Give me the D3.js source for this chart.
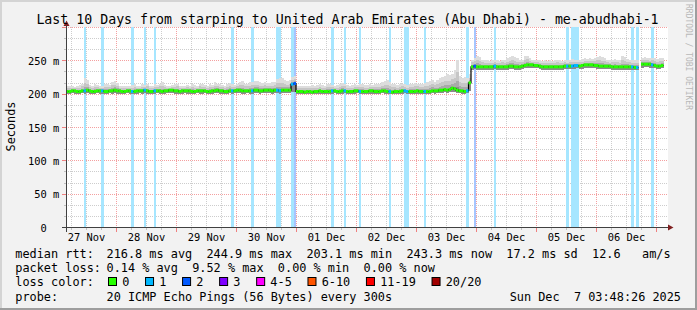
<!DOCTYPE html>
<html lang="en">
<head>
<meta charset="UTF-8">
<title>Smokeping - me-abudhabi-1</title>
<script src="https://d3js.org/d3.v7.min.js"></script>
<style>
    body { margin: 0; background: #f2f2f2; }
    svg { display: block; font-family: "DejaVu Sans Mono", monospace; }
    .pre { white-space: pre; }
</style>
</head>
<body>
<div id="chart"></div>
<script>
// ---- data (hourly bins, 240 = 10 days, starting Nov 27 03:48:26) ----
const startTime = Date.UTC(2025, 10, 27, 3, 48, 26);
const binCount = 240;

// median rtt per hour (ms), null = no data
const median = [
    204,204,205,205,204,204,205,205,206,205,204,204,205,205,205,204,204,205,205,206,205,205,204,204,
    205,205,204,204,205,205,205,206,205,204,204,205,205,205,204,205,205,206,206,205,205,204,205,205,
    205,205,204,204,205,205,205,205,204,204,205,205,206,205,205,204,204,205,205,205,206,206,205,205,
    205,205,205,206,206,205,205,206,206,206,205,206,206,205,206,206,206,206,215,216,204,204,204,203,
    204,204,203,204,204,205,204,204,204,204,205,205,204,204,205,205,204,204,204,205,205,204,204,204,
    204,205,205,204,204,204,205,205,204,204,203,204,204,204,205,205,204,204,204,204,205,204,204,204,
    204,204,205,205,205,206,206,207,206,207,209,208,206,205,205,204,205,217,241,242,241,241,241,241,
    241,241,241,242,241,241,241,241,241,242,242,241,241,241,242,243,244,244,244,243,243,242,241,241,
    241,241,241,241,241,241,241,242,242,242,242,243,243,242,243,244,244,244,244,243,243,242,242,242,
    242,242,241,241,241,241,241,241,241,241,241,240,240,null,245,245,245,245,244,243,242,242,243,null
];

// highest ping of the smoke per hour (ms)
const smokeMax = [
    212,213,212,211,212,214,216,225,222,214,213,215,214,213,212,216,215,214,219,220,217,213,212,213,
    213,212,214,215,213,212,215,214,216,213,212,215,214,216,218,214,213,212,214,215,216,213,212,213,
    214,213,215,214,213,216,215,214,213,215,214,218,216,215,214,213,216,217,215,214,216,218,220,216,
    216,218,219,220,220,218,217,218,217,217,218,219,223,225,224,221,220,221,226,228,212,212,213,213,
    212,213,214,213,214,215,214,213,216,215,214,213,214,215,217,216,214,213,214,215,214,216,215,214,
    214,215,214,216,215,216,218,220,221,219,216,215,214,215,216,215,214,215,216,217,216,215,216,217,
    218,220,222,219,221,224,226,228,230,229,231,236,251,228,224,226,224,230,252,255,258,256,252,251,
    251,250,251,252,251,250,252,251,254,256,257,256,254,252,252,257,258,254,252,251,252,251,250,251,
    250,251,250,251,252,251,250,252,251,252,253,252,251,252,253,254,253,254,253,255,256,257,256,254,
    252,251,252,253,252,251,257,256,253,252,251,252,251,null,255,256,255,254,255,254,253,254,255,null
];

// lowest ping of the smoke per hour (ms)
const smokeMin = [
    201,201,202,201,201,201,202,201,202,201,201,201,202,201,201,201,201,202,201,202,201,201,201,201,
    202,201,201,201,201,202,201,202,201,201,201,201,202,201,201,201,202,202,202,201,201,201,201,202,
    201,201,201,201,202,201,201,202,201,201,201,202,202,201,201,201,201,202,201,202,202,202,201,201,
    202,201,201,202,202,201,202,202,202,202,201,202,202,201,202,202,202,202,203,203,201,201,201,200,
    201,201,200,201,201,201,201,201,201,201,201,202,201,201,201,202,201,201,201,201,202,201,201,201,
    201,201,201,201,201,201,202,201,201,201,200,201,201,201,201,202,201,201,201,201,201,201,201,201,
    201,201,202,201,202,202,202,203,202,203,204,203,202,202,201,201,202,205,237,238,237,237,237,237,
    237,237,237,238,237,237,237,237,237,238,238,237,237,237,238,239,239,240,239,239,239,238,237,237,
    237,237,237,237,237,237,237,238,238,238,238,238,239,238,238,239,240,239,240,239,238,238,238,238,
    238,238,237,237,237,237,237,237,237,237,237,236,236,null,240,241,241,240,240,239,238,238,239,null
];

// hours with packet loss: [bin, lost pings of 20]
const lossEvents = [
    [7,1],[14,1],[26,1],[31,1],[35,1],[66,1],[74,1],[84,1],[85,1],[90,1],[91,2],
    [106,1],[111,1],[117,1],[129,1],[135,1],[136,1],[143,1],[160,1],[163,2],[171,1],
    [200,1],[202,1],[203,1],[204,1],[226,1],[228,1],[234,1]
];

const lossLabels = ["0", "1", "2", "3", "4-5", "6-10", "11-19", "20/20"];
const lossColors = ["#26ff00", "#00b8ff", "#0059ff", "#7e00ff", "#ff00ff", "#ff5500", "#ff0000", "#a10000"];

const yTicks = [0, 50, 100, 150, 200, 250];

const titleText = "Last 10 Days from starping to United Arab Emirates (Abu Dhabi) - me-abudhabi-1";
const rttStats = "216.8 ms avg  244.9 ms max  203.1 ms min  243.3 ms now  17.2 ms sd  12.6   am/s";
const lossStats = "0.14 % avg  9.52 % max  0.00 % min  0.00 % now";
const probeText = "20 ICMP Echo Pings (56 Bytes) every 300s";
const stampText = "Sun Dec  7 03:48:26 2025";

// ---- layout ----
const W = 697, H = 310;
const plotLeft = 66, plotRight = 666, plotTop = 27.5, plotBottom = 227.5;

const svg = d3.select("#chart").append("svg")
    .attr("width", W)
    .attr("height", H);

// background + frame shades
svg.append("rect").attr("width", W).attr("height", H).attr("fill", "#f2f2f2");
svg.append("path").attr("d", `M0,0H${W}V2H2V${H}H0Z`).attr("fill", "#d4d4d4");
svg.append("path").attr("d", `M${W},${H}H0V${H - 2}H${W - 2}V0H${W}Z`).attr("fill", "#9e9e9e");

// canvas
svg.append("rect")
    .attr("x", plotLeft).attr("y", 27)
    .attr("width", 602).attr("height", 201)
    .attr("fill", "#ffffff");

const endTime = startTime + binCount * 3600 * 1000;
const x = d3.scaleUtc()
    .domain([new Date(startTime), new Date(endTime)])
    .range([plotLeft, plotRight]);
const y = d3.scaleLinear()
    .domain([0, 300])
    .range([plotBottom, plotTop]);

const snap = v => Math.floor(v) + 0.5;
const binStart = i => new Date(startTime + i * 3600 * 1000);
const binEnd = i => new Date(startTime + (i + 1) * 3600 * 1000);

// ---- grid ----
const grid = svg.append("g").attr("fill", "none").attr("stroke-dasharray", "1,1")
    .attr("shape-rendering", "crispEdges");

// vertical: minor every 6h, major at midnight
const sixHours = d3.utcHour.every(6).range(new Date(startTime), new Date(endTime));
sixHours.forEach(t => {
    const major = t.getUTCHours() === 0;
    const px = snap(x(t));
    grid.append("line")
        .attr("x1", px).attr("x2", px)
        .attr("y1", 27).attr("y2", 228)
        .attr("stroke", major ? "#f4a0a0" : "#cdcdcd");
});

// horizontal: major every 50 m, two minor lines between
d3.range(0, 301, 50 / 3).forEach((v, k) => {
    if (k === 0) return;
    const major = k % 3 === 0;
    const py = snap(y(v));
    grid.append("line")
        .attr("x1", plotLeft).attr("x2", 668)
        .attr("y1", py).attr("y2", py)
        .attr("stroke", major ? "#f4a0a0" : "#cdcdcd");
});

// ---- loss background bars ----
const lossClass = n => n <= 0 ? 0 : n === 1 ? 1 : n === 2 ? 2 : n === 3 ? 3 : n <= 5 ? 4 : n <= 10 ? 5 : n <= 19 ? 6 : 7;
const lossByBin = new Map(lossEvents.map(d => [d[0], d[1]]));
const lighten = c => d3.interpolateRgb("#ffffff", c)(0.35);

svg.append("g").attr("shape-rendering", "crispEdges")
    .selectAll("rect")
    .data(lossEvents)
    .enter()
    .append("rect")
    .attr("x", d => x(binStart(d[0])))
    .attr("width", d => x(binEnd(d[0])) - x(binStart(d[0])))
    .attr("y", 27)
    .attr("height", 201)
    .attr("fill", d => lighten(lossColors[lossClass(d[1])]));

// ---- smoke ----
const bins = d3.range(binCount).map(i => ({
    i: i,
    med: median[i],
    hi: smokeMax[i],
    lo: smokeMin[i]
})).filter(d => d.med != null);

const smokeLayers = [
    { f: 1.0, color: "#dddddd" },
    { f: 0.6, color: "#c6c6c6" },
    { f: 0.3, color: "#a9a9a9" },
    { f: 0.1, color: "#8a8a8a" }
];
const smoke = svg.append("g").attr("shape-rendering", "crispEdges");
smokeLayers.forEach(layer => {
    smoke.selectAll(null)
        .data(bins)
        .enter()
        .append("rect")
        .attr("x", d => x(binStart(d.i)))
        .attr("width", d => x(binEnd(d.i)) - x(binStart(d.i)))
        .attr("y", d => y(d.med + (d.hi - d.med) * layer.f))
        .attr("height", d => y(d.lo) - y(d.med + (d.hi - d.med) * layer.f))
        .attr("fill", layer.color);
});

// ---- median ----
const medPts = [];
d3.range(binCount).forEach(i => {
    medPts.push({ t: binStart(i), v: median[i] });
    medPts.push({ t: binEnd(i), v: median[i] });
});
const medLine = d3.line()
    .defined(d => d.v != null)
    .x(d => x(d.t))
    .y(d => y(d.v));
svg.append("path")
    .attr("d", medLine(medPts))
    .attr("fill", "none")
    .attr("stroke", "#000")
    .attr("stroke-width", 1.2);

svg.append("g")
    .selectAll("rect")
    .data(bins)
    .enter()
    .append("rect")
    .attr("x", d => x(binStart(d.i)))
    .attr("width", d => x(binEnd(d.i)) - x(binStart(d.i)))
    .attr("y", d => y(d.med) - 1.5)
    .attr("height", 3)
    .attr("fill", d => lossColors[lossClass(lossByBin.get(d.i) || 0)]);

// ---- axes ----
const axisColor = "#404040";
const arrowColor = "#7f1f1f";

// ticks on axes
const ticks = svg.append("g").attr("shape-rendering", "crispEdges");
sixHours.forEach(t => {
    const major = t.getUTCHours() === 0;
    const px = snap(x(t));
    ticks.append("line")
        .attr("x1", px).attr("x2", px)
        .attr("y1", 228).attr("y2", major ? 232 : 230)
        .attr("stroke", major ? "#f08080" : "#c0c0c0");
});
d3.range(0, 301, 50 / 3).forEach((v, k) => {
    const major = k % 3 === 0;
    const py = snap(y(v));
    ticks.append("line")
        .attr("x1", major ? 62 : 64).attr("x2", 66)
        .attr("y1", py).attr("y2", py)
        .attr("stroke", major ? "#f08080" : "#c0c0c0");
});

svg.append("line")
    .attr("x1", 62).attr("x2", 669)
    .attr("y1", 227.5).attr("y2", 227.5)
    .attr("stroke", axisColor);
svg.append("line")
    .attr("x1", 66.5).attr("x2", 66.5)
    .attr("y1", 232).attr("y2", 24)
    .attr("stroke", axisColor);
svg.append("path")
    .attr("d", "M668,224.5L673.5,227.5L668,230.5Z")
    .attr("fill", arrowColor);
svg.append("path")
    .attr("d", "M63.5,26L66.5,20.5L69.5,26Z")
    .attr("fill", arrowColor);

// x labels at noon of each day
const noons = d3.utcDay.range(new Date(startTime), new Date(endTime))
    .map(d => new Date(d.getTime() + 12 * 3600 * 1000))
    .concat([new Date(Date.UTC(2025, 10, 27, 12))])
    .filter(d => x(d) > plotLeft && x(d) < plotRight);
svg.append("g")
    .selectAll("text")
    .data(noons)
    .enter()
    .append("text")
    .attr("x", d => x(d))
    .attr("y", 241)
    .attr("text-anchor", "middle")
    .attr("font-size", "10.4px")
    .attr("fill", "#000")
    .text(d3.utcFormat("%d %b"));

// y labels
const yl = svg.append("g").attr("font-size", "10.4px").attr("fill", "#000");
yTicks.forEach(v => {
    yl.append("text")
        .attr("x", 46.8).attr("y", y(v) + 4)
        .attr("text-anchor", "end")
        .text(v);
    if (v > 0) {
        yl.append("text")
            .attr("x", 53).attr("y", y(v) + 4)
            .text("m");
    }
});

// title
svg.append("text")
    .attr("x", 347.5).attr("y", 24)
    .attr("text-anchor", "middle")
    .attr("font-size", "13.25px")
    .text(titleText);

// y axis title
svg.append("text")
    .attr("transform", "translate(14.5,126.5) rotate(-90)")
    .attr("text-anchor", "middle")
    .attr("font-size", "11.86px")
    .text("Seconds");

// watermark
svg.append("text")
    .attr("transform", "translate(685.5,4) rotate(90)")
    .attr("font-size", "8px")
    .attr("fill", "#b8b8b8")
    .text("RRDTOOL / TOBI OETIKER");

// ---- legend ----
const leg = svg.append("g").attr("font-size", "11.86px").attr("fill", "#000");
const labelX = 15.3, valueX = 106.5, charW = 7.14;
const rows = [258, 272.2, 286.4, 300.6];

leg.append("text").attr("x", labelX).attr("y", rows[0]).text("median rtt:");
leg.append("text").attr("class", "pre").attr("x", valueX).attr("y", rows[0]).text(rttStats);
leg.append("text").attr("x", labelX).attr("y", rows[1]).text("packet loss:");
leg.append("text").attr("class", "pre").attr("x", valueX).attr("y", rows[1]).text(lossStats);
leg.append("text").attr("x", labelX).attr("y", rows[2]).text("loss color:");
leg.append("text").attr("x", labelX).attr("y", rows[3]).text("probe:");
leg.append("text").attr("x", valueX).attr("y", rows[3]).text(probeText);
leg.append("text").attr("class", "pre").attr("x", 681).attr("y", rows[3])
    .attr("text-anchor", "end").text(stampText);

let bx = 108;
lossLabels.forEach((lab, k) => {
    leg.append("rect")
        .attr("x", bx + 0.5).attr("y", 277.5)
        .attr("width", 8).attr("height", 8)
        .attr("fill", lossColors[k])
        .attr("stroke", "#000");
    leg.append("text")
        .attr("x", bx + 14.2).attr("y", rows[2])
        .text(lab);
    bx += 29.9 + charW * lab.length;
});
</script>
</body>
</html>
